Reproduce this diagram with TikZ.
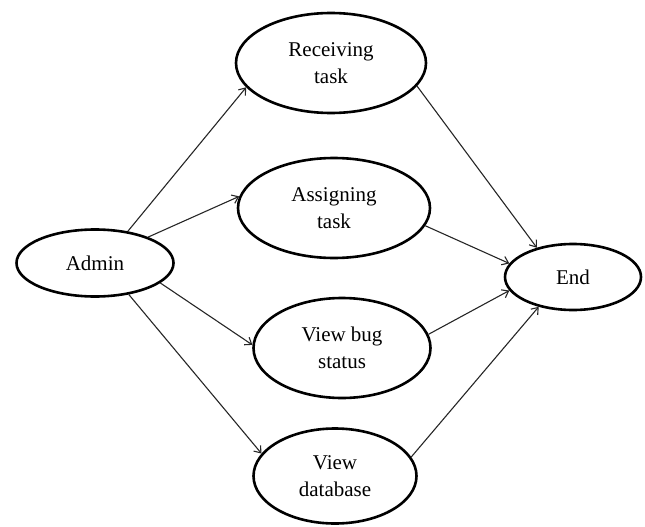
\documentclass[tikz,border=0pt]{standalone}
\usepackage{fontspec}
\setmainfont{Liberation Serif}
\usetikzlibrary{shapes.geometric,arrows.meta}
\begin{document}
\begin{tikzpicture}[x=1pt,y=-1pt,
  usecase/.style={ellipse,draw=black,line width=2.6pt,inner sep=0pt,
    align=center,font=\fontsize{21}{27}\selectfont},
  flow/.style={draw=black!85,line width=1.1pt,
    -{Straight Barb[length=6pt,width=9pt,line width=1.1pt]}}]
\useasboundingbox (0,0) rectangle (645,527);

% activities
\node[usecase,minimum width=157pt,minimum height=67pt] (admin) at (95,263) {Admin};
\node[usecase,minimum width=190pt,minimum height=100pt] (recv) at (331,63) {Receiving\\task};
\node[usecase,minimum width=192pt,minimum height=100pt] (assign) at (334,208) {Assigning\\task};
\node[usecase,minimum width=177pt,minimum height=100pt] (bug) at (342,348) {View bug\\status};
\node[usecase,minimum width=163pt,minimum height=95pt] (db) at (335,476) {View\\database};
\node[usecase,minimum width=136pt,minimum height=66pt] (end) at (573,277) {End};

% transitions out of Admin
\draw[flow] (admin.44) -- (recv.196.6);
\draw[flow] (admin.26) -- (assign.173.8);
\draw[flow] (admin.-17) -- (bug.178);
\draw[flow] (admin.-43) -- (db.163);

% transitions into End
\draw[flow] (recv.-15) -- (end.141.7);
\draw[flow] (assign.-11) -- (end.168.7);
\draw[flow] (bug.9.7) -- (end.-168);
\draw[flow] (db.14.7) -- (end.-139);
\end{tikzpicture}
\end{document}
